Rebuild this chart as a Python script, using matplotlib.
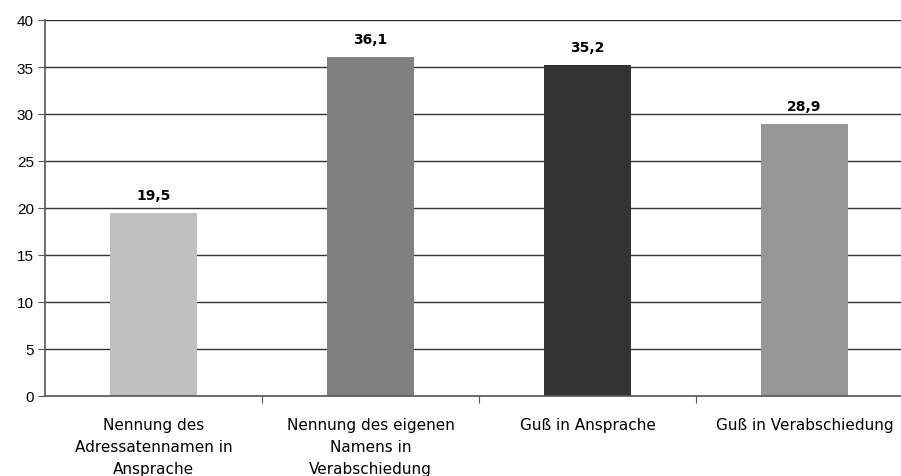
import matplotlib
matplotlib.use("Agg")
import matplotlib.pyplot as plt

categories = [
    "Nennung des\nAdressatennamen in\nAnsprache",
    "Nennung des eigenen\nNamens in\nVerabschiedung",
    "Guß in Ansprache",
    "Guß in Verabschiedung",
]
values = [19.5, 36.1, 35.2, 28.9]
value_labels = ["19,5", "36,1", "35,2", "28,9"]
bar_colors = ["#c0c0c0", "#808080", "#333333", "#969696"]
y_ticks = [0, 5, 10, 15, 20, 25, 30, 35, 40]

W, H = 901, 477
fig = plt.figure(figsize=(W / 100, H / 100), dpi=100)
ax = fig.add_axes([45 / W, 1 - 397 / H, (W - 45) / W, (397 - 21) / H])

x = list(range(len(categories)))
ax.set_axisbelow(True)
ax.yaxis.grid(True, color="#333333", linewidth=1.0)
ax.bar(x, values, width=0.4, color=bar_colors, zorder=2)

for xi, v, lab in zip(x, values, value_labels):
    ax.annotate(lab, (xi, v), xytext=(0, 8), textcoords="offset points",
                ha="center", va="bottom", fontsize=10, fontweight="bold",
                family="DejaVu Sans")

ax.set_ylim(0, 40)
ax.set_xlim(-0.5, -0.5 + (W - 45) / 217)
ax.set_yticks(y_ticks)
ax.set_yticklabels([str(t) for t in y_ticks], family="Liberation Sans", fontsize=11)

# category boundary ticks, labels centered under bars
ax.set_xticks([0.5, 1.5, 2.5], minor=False)
ax.set_xticklabels([])
ax.tick_params(axis="x", which="major", length=5, color="#555555", direction="out")
ax.set_xticks(x, minor=True)
ax.set_xticklabels(categories, minor=True, fontsize=11, family="DejaVu Sans",
                   linespacing=1.58, va="top")
ax.tick_params(axis="x", which="minor", length=0, pad=15)
ax.tick_params(axis="y", length=5, color="#555555", pad=3)

for side in ["top", "right"]:
    ax.spines[side].set_visible(False)
ax.spines["left"].set_color("#555555")
ax.spines["bottom"].set_color("#555555")
ax.spines["left"].set_linewidth(1.2)
ax.spines["bottom"].set_linewidth(1.2)

fig.savefig("out.png", dpi=100)
